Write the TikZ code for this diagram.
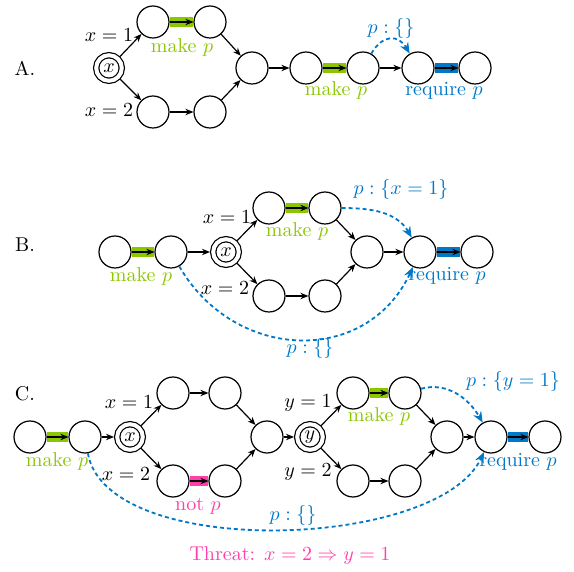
\documentclass[tikz,border=0pt]{standalone}
\usepackage{amsmath,amssymb}
\usepackage{tikz}
\usetikzlibrary{positioning,arrows.meta}
\usepackage{xcolor}
\definecolor{makegreen}{RGB}{140,198,0}
\definecolor{reqblue}{RGB}{0,120,200}
\definecolor{notpink}{RGB}{255,64,170}

\begin{document}
\begin{tikzpicture}[
    x=0.5pt, y=-0.5pt,
    state/.style={draw, circle, semithick, minimum size=16pt, inner sep=0pt},
    choice/.style={draw, circle, semithick, double, double distance=2pt, minimum size=12.8pt, inner sep=0pt, outer sep=1.6pt},
    flow/.style={semithick, -{Stealth[length=4pt, width=3.2pt]}},
    make/.style={preaction={draw=makegreen, line width=5pt, -}},
    req/.style={preaction={draw=reqblue, line width=5pt, -}},
    notp/.style={preaction={draw=notpink, line width=5pt, -}},
    dep/.style={draw=reqblue, dashed, dash pattern=on 2pt off 1.5pt, line width=0.9pt, -{Stealth[length=5.5pt, width=4.5pt]}},
    tag/.style={inner sep=1pt}
]
    \useasboundingbox (0,0) rectangle (574,572);

    \node[tag] (rowa) at (25,68) {A.};
    \node[choice] (ax) at (109,68) {$x$};
    \node[state] (at1) at (153,22) {};
    \node[state] (at2) at (210,22) {};
    \node[state] (ab1) at (153,112) {};
    \node[state] (ab2) at (210,112) {};
    \node[state] (am) at (252,68) {};
    \node[state] (a1) at (306,68) {};
    \node[state] (a2) at (363,68) {};
    \node[state] (a3) at (418,68) {};
    \node[state] (a4) at (475,68) {};

    \draw[flow] (ax) -- (at1);
    \draw[flow] (ax) -- (ab1);
    \draw[flow, make] (at1) -- (at2);
    \draw[flow] (ab1) -- (ab2);
    \draw[flow] (at2) -- (am);
    \draw[flow] (ab2) -- (am);
    \draw[flow] (am) -- (a1);
    \draw[flow, make] (a1) -- (a2);
    \draw[flow] (a2) -- (a3);
    \draw[flow, req] (a3) -- (a4);
    \draw[dep] (a2) to[out=60, in=120, looseness=1.5] (a3);

    \node[tag] (ax1) at (109,35) {$x = 1$};
    \node[tag] (ax2) at (109,110) {$x = 2$};
    \node[tag, text=makegreen] (amk1) at (182,48) {make $p$};
    \node[tag, text=makegreen] (amk2) at (336,91) {make $p$};
    \node[tag, text=reqblue] (arq) at (444,91) {require $p$};
    \node[tag, text=reqblue] (adep) at (391,29) {$p:\{\}$};

    \node[tag] (rowb) at (25,245) {B.};
    \node[state] (b1) at (115,252) {};
    \node[state] (b2) at (171,252) {};
    \node[choice] (bx) at (226,252) {$x$};
    \node[state] (bt1) at (269,208) {};
    \node[state] (bt2) at (325,208) {};
    \node[state] (bb1) at (269,296) {};
    \node[state] (bb2) at (325,296) {};
    \node[state] (bm) at (367,252) {};
    \node[state] (b3) at (420,252) {};
    \node[state] (b4) at (477,252) {};

    \draw[flow, make] (b1) -- (b2);
    \draw[flow] (b2) -- (bx);
    \draw[flow] (bx) -- (bt1);
    \draw[flow] (bx) -- (bb1);
    \draw[flow, make] (bt1) -- (bt2);
    \draw[flow] (bb1) -- (bb2);
    \draw[flow] (bt2) -- (bm);
    \draw[flow] (bb2) -- (bm);
    \draw[flow] (bm) -- (b3);
    \draw[flow, req] (b3) -- (b4);
    \draw[dep] (bt2) to[out=0, in=120] (b3);
    \draw[dep] (b2) to[out=-60, in=-115, looseness=1.2] (b3);

    \node[tag] (bx1) at (227,217) {$x = 1$};
    \node[tag] (bx2) at (225,288) {$x = 2$};
    \node[tag, text=makegreen] (bmk1) at (141,277) {make $p$};
    \node[tag, text=makegreen] (bmk2) at (297,232) {make $p$};
    \node[tag, text=reqblue] (brq) at (447,276) {require $p$};
    \node[tag, text=reqblue] (bdep1) at (401,190) {$p:\{x = 1\}$};
    \node[tag, text=reqblue] (bdep2) at (310,349) {$p:\{\}$};

    \node[tag] (rowc) at (25,394) {C.};
    \node[state] (c1) at (30,437) {};
    \node[state] (c2) at (85,437) {};
    \node[choice] (cx) at (130,437) {$x$};
    \node[state] (ct1) at (173,393) {};
    \node[state] (ct2) at (225,393) {};
    \node[state] (cb1) at (173,481) {};
    \node[state] (cb2) at (225,481) {};
    \node[state] (cm) at (267,437) {};
    \node[choice] (cy) at (310,437) {$y$};
    \node[state] (cu1) at (353,393) {};
    \node[state] (cu2) at (405,393) {};
    \node[state] (cv1) at (353,481) {};
    \node[state] (cv2) at (405,481) {};
    \node[state] (cn) at (447,437) {};
    \node[state] (c3) at (491,437) {};
    \node[state] (c4) at (545,437) {};

    \draw[flow, make] (c1) -- (c2);
    \draw[flow] (c2) -- (cx);
    \draw[flow] (cx) -- (ct1);
    \draw[flow] (cx) -- (cb1);
    \draw[flow] (ct1) -- (ct2);
    \draw[flow, notp] (cb1) -- (cb2);
    \draw[flow] (ct2) -- (cm);
    \draw[flow] (cb2) -- (cm);
    \draw[flow] (cm) -- (cy);
    \draw[flow] (cy) -- (cu1);
    \draw[flow] (cy) -- (cv1);
    \draw[flow, make] (cu1) -- (cu2);
    \draw[flow] (cv1) -- (cv2);
    \draw[flow] (cu2) -- (cn);
    \draw[flow] (cv2) -- (cn);
    \draw[flow] (cn) -- (c3);
    \draw[flow, req] (c3) -- (c4);
    \draw[dep] (cu2) to[out=15, in=120] (c3);
    \draw[dep] (c2) to[out=-80, in=-115, looseness=0.7] (c3);

    \node[tag] (cx1) at (129,402) {$x = 1$};
    \node[tag] (cx2) at (126,474) {$x = 2$};
    \node[tag] (cy1) at (308,403) {$y = 1$};
    \node[tag] (cy2) at (308,472) {$y = 2$};
    \node[tag, text=makegreen] (cmk1) at (57,462) {make $p$};
    \node[tag, text=makegreen] (cmk2) at (379,417) {make $p$};
    \node[tag, text=notpink] (cnot) at (198,506) {not $p$};
    \node[tag, text=reqblue] (crq) at (518,462) {require $p$};
    \node[tag, text=reqblue] (cdep1) at (513,382) {$p:\{y = 1\}$};
    \node[tag, text=reqblue] (cdep2) at (293,516) {$p:\{\}$};
    \node[tag, text=notpink] (threat) at (290,556) {Threat: $x = 2 \Rightarrow y = 1$};
\end{tikzpicture}
\end{document}
